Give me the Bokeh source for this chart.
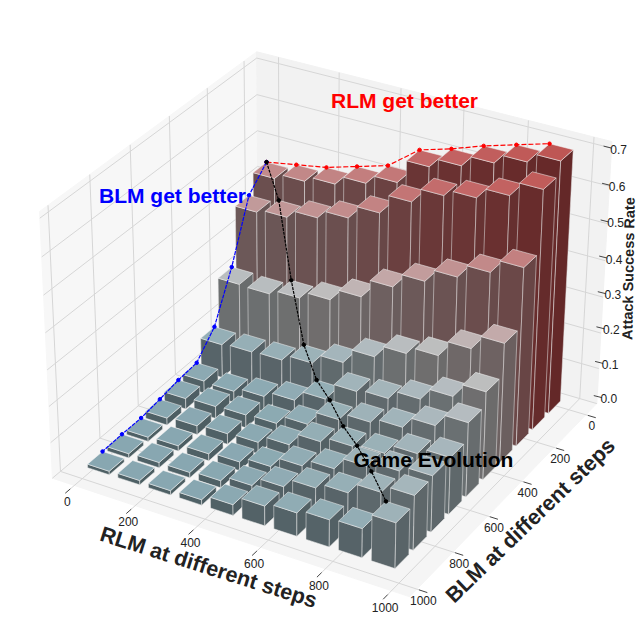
import numpy as np
from bokeh.plotting import figure
from bokeh.models import ColumnDataSource
from bokeh.core.properties import value
from bokeh.embed import file_html
from bokeh.resources import INLINE

# ---------------- data ----------------
x_ticks = [0, 200, 400, 600, 800, 1000]
y_ticks = [0, 200, 400, 600, 800, 1000]
z_ticks = [0.0, 0.1, 0.2, 0.3, 0.4, 0.5, 0.6, 0.7]
z_row0 = [.44, .455, .47, .495, .52, .585, .61, .64, .665, .69]
z_row1 = [.386, .395, .417, .44, .477, .53, .57, .587, .616, .655]
z_row2 = [.224, .222, .235, .255, .288, .34, .38, .416, .453, .49]
z_row3 = [.095, .10, .103, .12, .148, .19, .225, .245, .29, .33]
z_row4 = [.035, .032, .044, .06, .09, .138, .145, .17, .204, .243]
z_row5 = [.03, .034, .037, .04, .065, .105, .125, .138, .17, .205]
z_row6 = [.02, .025, .03, .033, .054, .09, .105, .113, .14, .157]
z_row7 = [.012, .015, .02, .025, .04, .07, .09, .125, .14, .155]
z_row8 = [.012, .015, .015, .02, .035, .06, .085, .10, .13, .15]
z_row9 = [.01, .012, .012, .015, .03, .055, .065, .075, .08, .125]
Z = [z_row0, z_row1, z_row2, z_row3, z_row4, z_row5, z_row6, z_row7, z_row8, z_row9]

# ---------------- camera: data (x, y, z) -> page pixel, solved from the box corners ----------------
cal_data = [(0, 1000, 0), (1000, 1000, 0), (1000, 0, 0), (1000, -70, 0), (1000, -70, .7),
            (-73, -70, .7), (-73, -70, 0), (-73, 1000, .7), (-73, 1000, 0)]
cal_page = [(83, 478), (399, 582), (568, 411), (580, 398), (592, 142),
            (259, 58), (256, 303), (46, 212), (60, 471)]
rows = []
for (a, b, c), (u, v) in zip(cal_data, cal_page):
    X = [a / 1000, b / 1000, c / .7, 1]
    rows.append(X + [0, 0, 0, 0] + [-u * t for t in X])
    rows.append([0, 0, 0, 0] + X + [-v * t for t in X])
P = np.linalg.svd(np.array(rows, float))[2][-1].reshape(3, 4)


def proj(x, y, z):
    h = P @ np.array([x / 1000, y / 1000, z / .7, 1.0])
    return float(h[0] / h[2]), float(h[1] / h[2])


def path(points):
    q = [proj(*t) for t in points]
    return [a for a, _ in q], [b for _, b in q]


# ---------------- colours ----------------
lev = [0, .1, .2, .25, .33, .4, .5, .6, .7]
top_rgb = [(134, 166, 176), (150, 175, 182), (180, 188, 192), (190, 190, 190), (195, 170, 170),
           (193, 150, 150), (195, 125, 125), (195, 100, 100), (190, 85, 82)]
side_rgb = [(77, 96, 101), (88, 100, 105), (105, 112, 114), (112, 110, 110), (110, 98, 98),
            (107, 85, 85), (107, 70, 70), (106, 50, 50), (103, 40, 40)]


def shade(table, z, k=1.0):
    c = [np.interp(z, lev, [t[n] for t in table]) * k for n in range(3)]
    return "#%02x%02x%02x" % tuple(int(round(t)) for t in c)


# ---------------- figure ----------------
p = figure(width=639, height=639, x_range=(0, 639), y_range=(639, 0), x_axis_type=None, y_axis_type=None,
           output_backend="svg", toolbar_location=None, min_border=0)
p.grid.visible = False
p.outline_line_color = None
p.background_fill_color = "white"

x0, x1, y0, y1, ztop = -73, 1054, -70, 1040, .717

# panes
for pts, col in [([(x0, y0, 0), (x0, y1, 0), (x0, y1, ztop), (x0, y0, ztop)], "#f7f7f7"),
                 ([(x0, y0, 0), (x1, y0, 0), (x1, y0, ztop), (x0, y0, ztop)], "#f2f2f2"),
                 ([(x0, y0, 0), (x1, y0, 0), (x1, y1, 0), (x0, y1, 0)], "#f5f5f5")]:
    a, b = path(pts)
    p.patch(a, b, fill_color=col, line_color=col, line_width=1)

# grid
gx, gy = [], []
for t in x_ticks:
    a, b = path([(t, y0 - 0, ztop), (t, y0, 0), (t, 1060, 0)])
    gx.append(a); gy.append(b)
for t in y_ticks:
    a, b = path([(x0, t, ztop), (x0, t, 0), (1060, t, 0)])
    gx.append(a); gy.append(b)
for t in z_ticks:
    a, b = path([(x0, y1, t), (x0, y0, t), (x1, y0, t)])
    gx.append(a); gy.append(b)
p.multi_line(gx, gy, line_color="#d6d6d6", line_width=1)

# ticks
tx, ty = [], []
for t in x_ticks:
    a, b = path([(t, 1060, 0), (t, 1085, 0)])
    tx.append(a); ty.append(b)
for t in y_ticks:
    a, b = path([(1060, t, 0), (1085, t, 0)])
    tx.append(a); ty.append(b)
z_ends = []
for t in z_ticks:
    a, b = proj(x1, y0, t)
    a, b = a - 3 - 5 * t / .7, b - 8 + 6 * t / .7
    tx.append([a, a + 8]); ty.append([b, b + 2])
    z_ends.append((a + 8, b + 2))
p.multi_line(tx, ty, line_color="#444444", line_width=1)

# bars
bar_w, bar_d = 72, 76
left = [-18 + 100.5 * i for i in range(10)]
back = [46 - bar_d + 100 * j for j in range(10)]
fx, fy, ff, fl = [], [], [], []
for j in range(10):
    for i in range(10):
        z = Z[j][i]
        xa, xb = left[i], left[i] + bar_w
        ya, yb = back[j], back[j] + bar_d
        for pts, col, edge in [
            ([(xa, yb, 0), (xb, yb, 0), (xb, yb, z), (xa, yb, z)], shade(side_rgb, z), "#e8e8e8"),
            ([(xb, yb, 0), (xb, ya, 0), (xb, ya, z), (xb, yb, z)], shade(side_rgb, z, .97), "#e8e8e8"),
            ([(xa, ya, z), (xb, ya, z), (xb, yb, z), (xa, yb, z)], shade(top_rgb, z), "#f4f4f4"),
        ]:
            a, b = path(pts)
            fx.append(a); fy.append(b); ff.append(col); fl.append(edge)
p.patches("xs", "ys", source=ColumnDataSource(dict(xs=fx, ys=fy, ff=ff, fl=fl)),
          fill_color="ff", line_color="fl", line_width=0.7, line_alpha=0.75)

# game paths
red_pts = [proj(left[i], back[0], Z[0][i]) for i in range(10)]
blue_pts = [proj(left[0], back[j], Z[j][0]) for j in range(10)]
black_pts = [proj(left[i], back[i], Z[i][i]) for i in range(10)]
for pts, col, dash in [(red_pts, "red", "5 2"), (blue_pts, "blue", "4 1"), (black_pts, "black", "3 1")]:
    a = [t[0] for t in pts]
    b = [t[1] for t in pts]
    p.line(a, b, line_color=col, line_width=1.2, line_dash=dash)
    p.scatter(a, b, size=3.5, fill_color=col, line_color=col)


def label(x, y, s, size, col="#222222", angle=0.0, bold=False, font="Liberation Sans"):
    p.text([x], [y], text=[s], text_font=value(font), text_font_size=f"{size}px",
           text_font_style="bold" if bold else "normal", text_color=col, angle=angle, angle_units="deg",
           text_align="center", text_baseline="middle")


for t in x_ticks:
    a, b = proj(t, 1085, 0)
    label(a + 2, b + 8, str(t), 12)
for t in y_ticks:
    a, b = proj(1085, t, 0)
    label(a - 4, b + 8, str(t), 12)
for t, (a, b) in zip(z_ticks, z_ends):
    label(a + 7, b + 1, f"{t:.1f}", 12)

label(404, 100, "RLM get better", 21, "red", bold=True)
label(172, 195, "BLM get better", 21, "blue", bold=True)
label(433, 459, "Game Evolution", 21, "black", bold=True)
label(208, 567, "RLM at different steps", 21.5, angle=-17.5, bold=True)
label(530, 520, "BLM at different steps", 21.5, angle=44, bold=True)
label(628, 268, "Attack Success Rate", 14.5, angle=89, bold=True)

open("out.html", "w").write(file_html(p, INLINE))
